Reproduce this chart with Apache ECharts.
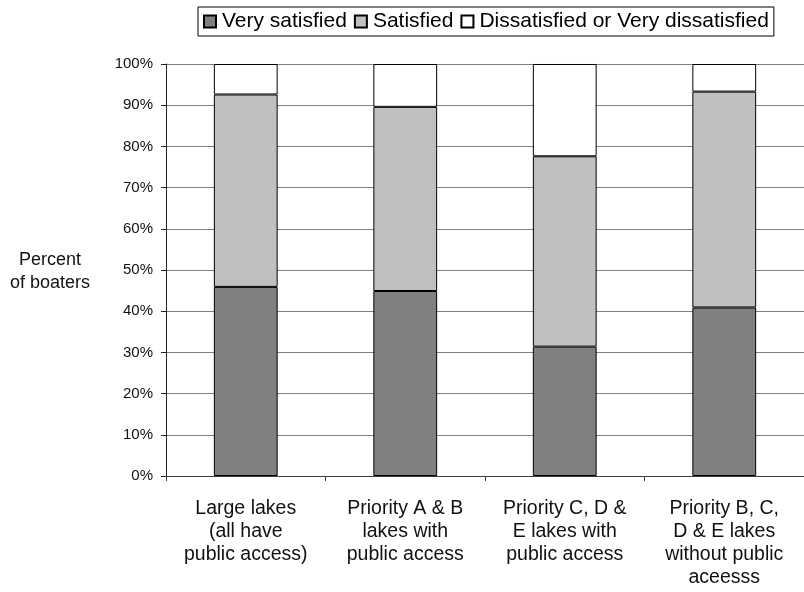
<!DOCTYPE html>
<html>
<head>
<meta charset="utf-8">
<script src="https://cdn.jsdelivr.net/npm/echarts@6/dist/echarts.min.js"></script>
<style>
  html, body { margin: 0; padding: 0; background: #fff; }
  #chart { width: 804px; height: 592px; }
</style>
</head>
<body>
<div id="chart"></div>
<script>
// Lake groups shown along the horizontal axis
const categories = [
  'Large lakes\n(all have\npublic access)',
  'Priority A & B\nlakes with\npublic access',
  'Priority C, D &\nE lakes with\npublic access',
  'Priority B, C,\nD & E lakes\nwithout public\naceesss'
];
// Share of boaters (%) for each satisfaction level
const verySatisfied = [45.9, 44.9, 31.4, 40.9];
const satisfied = [46.7, 44.7, 46.2, 52.4];
const dissatisfied = [7.4, 10.4, 22.4, 6.7];
const yTicks = [0, 10, 20, 30, 40, 50, 60, 70, 80, 90, 100];

const FONT = 'Liberation Sans, Arial, sans-serif';

function barSeries(name, data, color) {
  return {
    name: name,
    type: 'bar',
    stack: 'total',
    barWidth: '40%',
    data: data,
    itemStyle: { color: color, borderColor: '#000', borderWidth: 1 },
    emphasis: { disabled: true },
    animation: false
  };
}

const chart = echarts.init(document.getElementById('chart'), null, { renderer: 'canvas' });
chart.setOption({
  animation: false,
  textStyle: { fontFamily: FONT },
  legend: {
    left: 198,
    top: 7,
    padding: [4, 5, 4, 5],
    itemGap: 7,
    itemWidth: 12,
    itemHeight: 12,
    icon: 'rect',
    borderColor: '#000',
    borderWidth: 1,
    textStyle: { fontSize: 21, color: '#000', fontFamily: FONT, padding: [0, 0, 0, 1] },
    data: ['Very satisfied', 'Satisfied', 'Dissatisfied or Very dissatisfied']
  },
  grid: { left: 166, top: 64, width: 645, height: 412, containLabel: false },
  xAxis: {
    type: 'category',
    data: categories,
    axisLine: { lineStyle: { color: '#404040', width: 1 } },
    axisTick: { show: true, length: 5, lineStyle: { color: '#404040' } },
    axisLabel: {
      interval: 0,
      margin: 21,
      fontSize: 19.5,
      lineHeight: 23,
      color: '#111',
      fontFamily: FONT,
      align: 'center'
    },
    splitLine: { show: false }
  },
  yAxis: {
    type: 'value',
    min: yTicks[0],
    max: yTicks[yTicks.length - 1],
    interval: 10,
    axisLine: { show: true, lineStyle: { color: '#222', width: 1 } },
    axisTick: { show: true, length: 5, lineStyle: { color: '#222' } },
    axisLabel: {
      margin: 13,
      fontSize: 15,
      color: '#111',
      fontFamily: FONT,
      formatter: v => v + '%'
    },
    splitLine: { show: true, lineStyle: { color: '#808080', width: 1 } }
  },
  graphic: [
    {
      type: 'text',
      x: 50,
      y: 249,
      style: {
        text: 'Percent\nof boaters',
        fontSize: 18,
        lineHeight: 23,
        fontFamily: FONT,
        fill: '#111',
        align: 'center',
        verticalAlign: 'top'
      }
    }
  ],
  series: [
    barSeries('Very satisfied', verySatisfied, '#808080'),
    barSeries('Satisfied', satisfied, '#c0c0c0'),
    barSeries('Dissatisfied or Very dissatisfied', dissatisfied, '#ffffff')
  ]
});
</script>
</body>
</html>
